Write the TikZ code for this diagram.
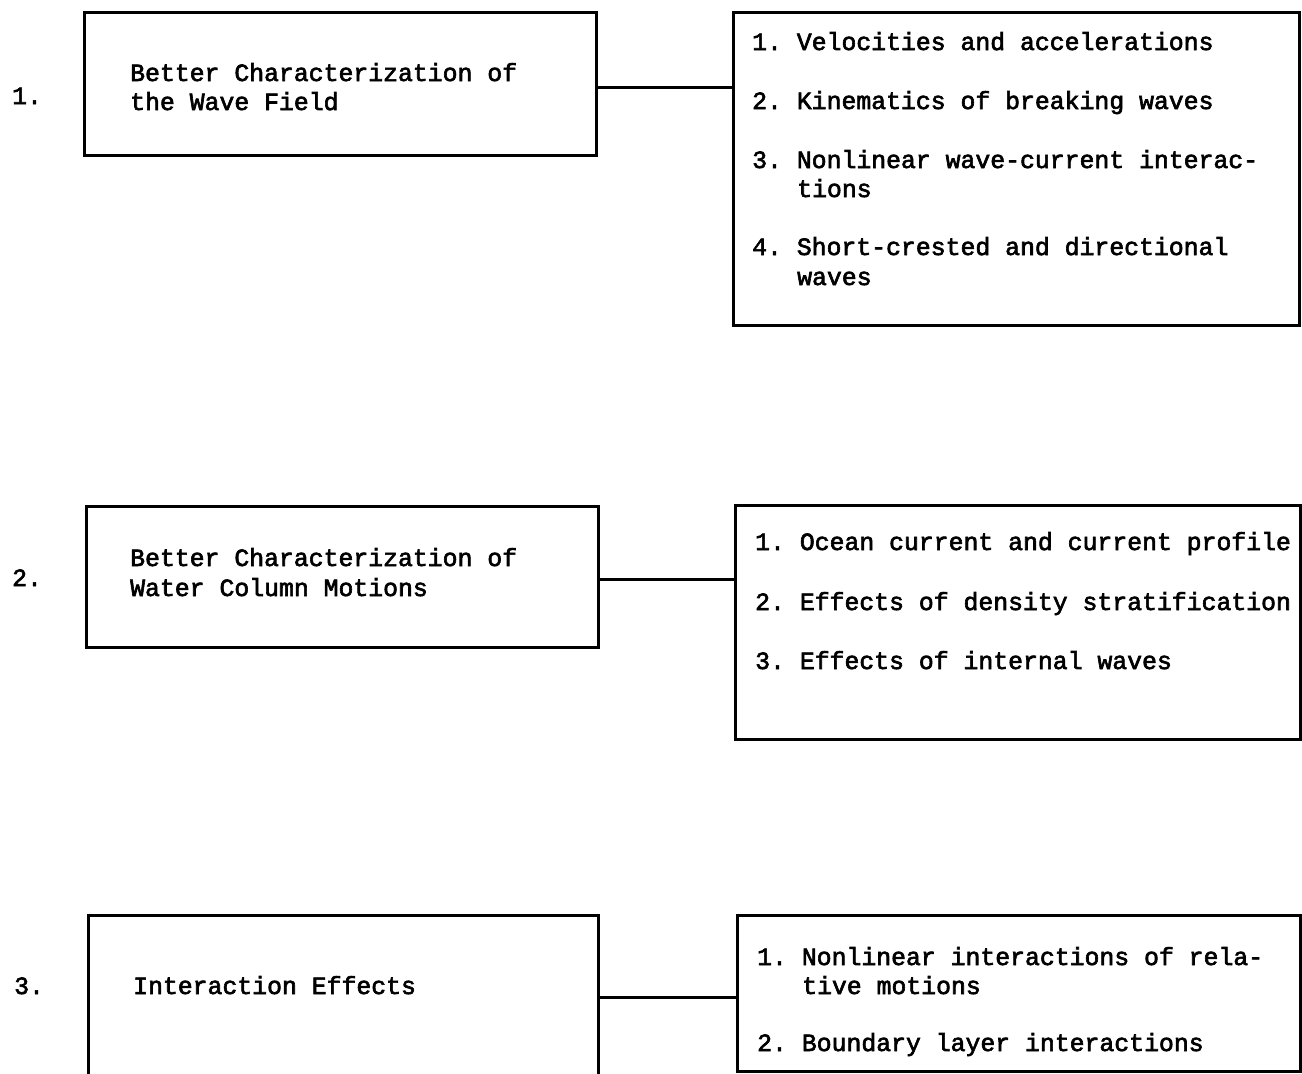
\documentclass[tikz,border=0pt]{standalone}
\usepackage{fontspec}
\newfontfamily\tw[FakeBold=2.5]{Liberation Mono}
\frenchspacing
\begin{document}
\begin{tikzpicture}[x=1pt,y=-1pt,
  box/.style={draw=black, line width=3pt, rectangle, inner sep=0pt, fill=none},
  txt/.style={anchor=base west, inner sep=0pt, font=\tw\fontsize{24.8}{29.5}\selectfont\frenchspacing},
  link/.style={draw=black, line width=3pt}]
\useasboundingbox (0,0) rectangle (1302,1074);
\clip (0,0) rectangle (1302,1074);
% group 1
\node[box, minimum width=512pt, minimum height=143pt] (b1l) at (340,83.5) {};
\node[box, minimum width=566pt, minimum height=313pt] (b1r) at (1016,168.5) {};
\draw[link] ([yshift=-3.5pt]b1l.east) -- ([yshift=-3.5pt]b1l.east -| b1r.west);
\node[txt] (n1) at (12,104) {1.};
\node[txt] (t1a) at (130,81) {Better Characterization of};
\node[txt] (t1b) at (130,110) {the Wave Field};
\node[txt] (r1a) at (752,50) {1. Velocities and accelerations};
\node[txt] (r1b) at (752,109) {2. Kinematics of breaking waves};
\node[txt] (r1c) at (752,168) {3. Nonlinear wave-current interac-};
\node[txt] (r1d) at (797,197) {tions};
\node[txt] (r1e) at (752,255) {4. Short-crested and directional};
\node[txt] (r1f) at (797,285) {waves};
% group 2
\node[box, minimum width=512pt, minimum height=141pt] (b2l) at (342,576.5) {};
\node[box, minimum width=565pt, minimum height=234pt] (b2r) at (1017.5,622) {};
\draw[link] ([yshift=-2.5pt]b2l.east) -- ([yshift=-2.5pt]b2l.east -| b2r.west);
\node[txt] (n2) at (12,586) {2.};
\node[txt] (t2a) at (130,566) {Better Characterization of};
\node[txt] (t2b) at (130,596) {Water Column Motions};
\node[txt] (r2a) at (755,550) {1. Ocean current and current profile};
\node[txt] (r2b) at (755,610) {2. Effects of density stratification};
\node[txt] (r2c) at (755,669) {3. Effects of internal waves};
% group 3
\node[box, minimum width=510pt, minimum height=165pt] (b3l) at (343,997.5) {};
\node[box, minimum width=563pt, minimum height=156pt] (b3r) at (1018.5,993) {};
\draw[link] (b3l.east) -- (b3l.east -| b3r.west);
\node[txt] (n3) at (14,994) {3.};
\node[txt] (t3a) at (133,994) {Interaction Effects};
\node[txt] (r3a) at (757,965) {1. Nonlinear interactions of rela-};
\node[txt] (r3b) at (802,994) {tive motions};
\node[txt] (r3c) at (757,1051) {2. Boundary layer interactions};
\end{tikzpicture}
\end{document}
